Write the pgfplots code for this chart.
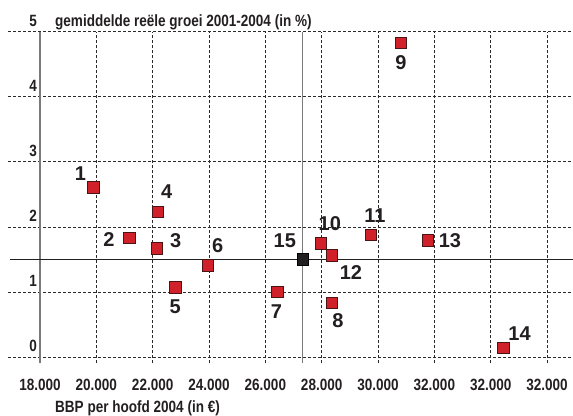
\documentclass[border=0pt]{standalone}
\usepackage{pgfplots}
\pgfplotsset{compat=1.18}
\usepackage{fontspec}
\setmainfont{Liberation Sans}
\newfontfamily\condfont{Liberation Sans}[FakeStretch=0.83]
\definecolor{txt}{HTML}{231F20}
\definecolor{mred}{HTML}{D0202A}
\definecolor{medge}{HTML}{4A1414}
\definecolor{gridc}{HTML}{2A2A2A}
\definecolor{axgray}{HTML}{7A7A7A}
\pgfplotstableread{
x y label dx dy
19893 2.61 1 -13 14
21160 1.83 2 -20 -2
22145 1.67 3 19 8
22180 2.23 4 9 20
22796 1.07 5 0 -19
23957 1.41 6 10 20
26430 1.00 7 -1 -20
28362 0.83 8 6 -18
30813 4.83 9 0 -20
27971 1.75 10 9 20
29748 1.88 11 4 19
28362 1.56 12 19 -17
31773 1.79 13 22 0
34458 0.14 14 16 14
}\landen
\pgfplotstableread{
x y label dx dy
27332 1.50 15 -18 19
}\gemiddeld
\begin{document}
\begin{tikzpicture}
\path[use as bounding box] (0,0) rectangle (573bp,416bp);
\begin{axis}[
  at={(8bp,52.5bp)}, anchor=south west,
  scale only axis, width=565bp, height=331.8bp,
  xmin=16864, xmax=36922, ymin=-0.1, ymax=5,
  axis line style={draw=none},
  tick style={draw=none},
  xtick={18000,20000,...,36000},
  xticklabels={18.000,20.000,22.000,24.000,26.000,28.000,30.000,32.000,32.000,32.000},
  ytick={0,1,2,3,4,5},
  yticklabels={0,1,2,3,4,5},
  /pgf/number format/assume math mode=true,
  grid=major,
  major grid style={gridc, line width=0.7bp, dash pattern=on 3bp off 2bp},
  tick label style={font=\condfont\bfseries\fontsize{16.3bp}{18bp}\selectfont, text=txt, inner sep=0pt},
  xticklabel style={anchor=center, yshift=-21bp},
  yticklabel style={anchor=base east, xshift=29bp, yshift=5.5bp},
  scaled x ticks=false,
  clip=false,
]
\draw[axgray, line width=1.1bp] (axis cs:18000,-0.1) -- (axis cs:18000,5);
\draw[axgray, line width=1.1bp] (axis cs:27332,-0.1) -- (axis cs:27332,5);
\draw[txt, line width=1.2bp] (axis cs:16940,1.5) -- (axis cs:36922,1.5);
\addplot[only marks, mark=square*, mark size=5.8bp,
  mark options={fill=mred, draw=medge, line width=0.6bp},
  nodes near coords, point meta=explicit symbolic,
  visualization depends on={\thisrow{dx}\as\mydx},
  visualization depends on={\thisrow{dy}\as\mydy},
  every node near coord/.append style={anchor=center, inner sep=0pt,
     font=\bfseries\fontsize{20bp}{22bp}\selectfont, text=txt,
     xshift=\mydx*1bp, yshift=\mydy*1bp}]
  table[x=x, y=y, meta=label] {\landen};
\addplot[only marks, mark=square*, mark size=5.8bp,
  mark options={fill=txt, draw=black, line width=0.6bp},
  nodes near coords, point meta=explicit symbolic,
  visualization depends on={\thisrow{dx}\as\mydx},
  visualization depends on={\thisrow{dy}\as\mydy},
  every node near coord/.append style={anchor=center, inner sep=0pt,
     font=\bfseries\fontsize{20bp}{22bp}\selectfont, text=txt,
     xshift=\mydx*1bp, yshift=\mydy*1bp}]
  table[x=x, y=y, meta=label] {\gemiddeld};
\end{axis}
\node[anchor=base west, inner sep=0pt, text=txt,
  font=\condfont\bfseries\fontsize{16.3bp}{18bp}\selectfont]
  at (55bp,389.3bp) {gemiddelde reële groei 2001-2004 (in \%)};
\node[anchor=base west, inner sep=0pt, text=txt,
  font=\condfont\bfseries\fontsize{16.3bp}{18bp}\selectfont]
  at (55bp,3.5bp) {BBP per hoofd 2004 (in €)};
\end{tikzpicture}
\end{document}
